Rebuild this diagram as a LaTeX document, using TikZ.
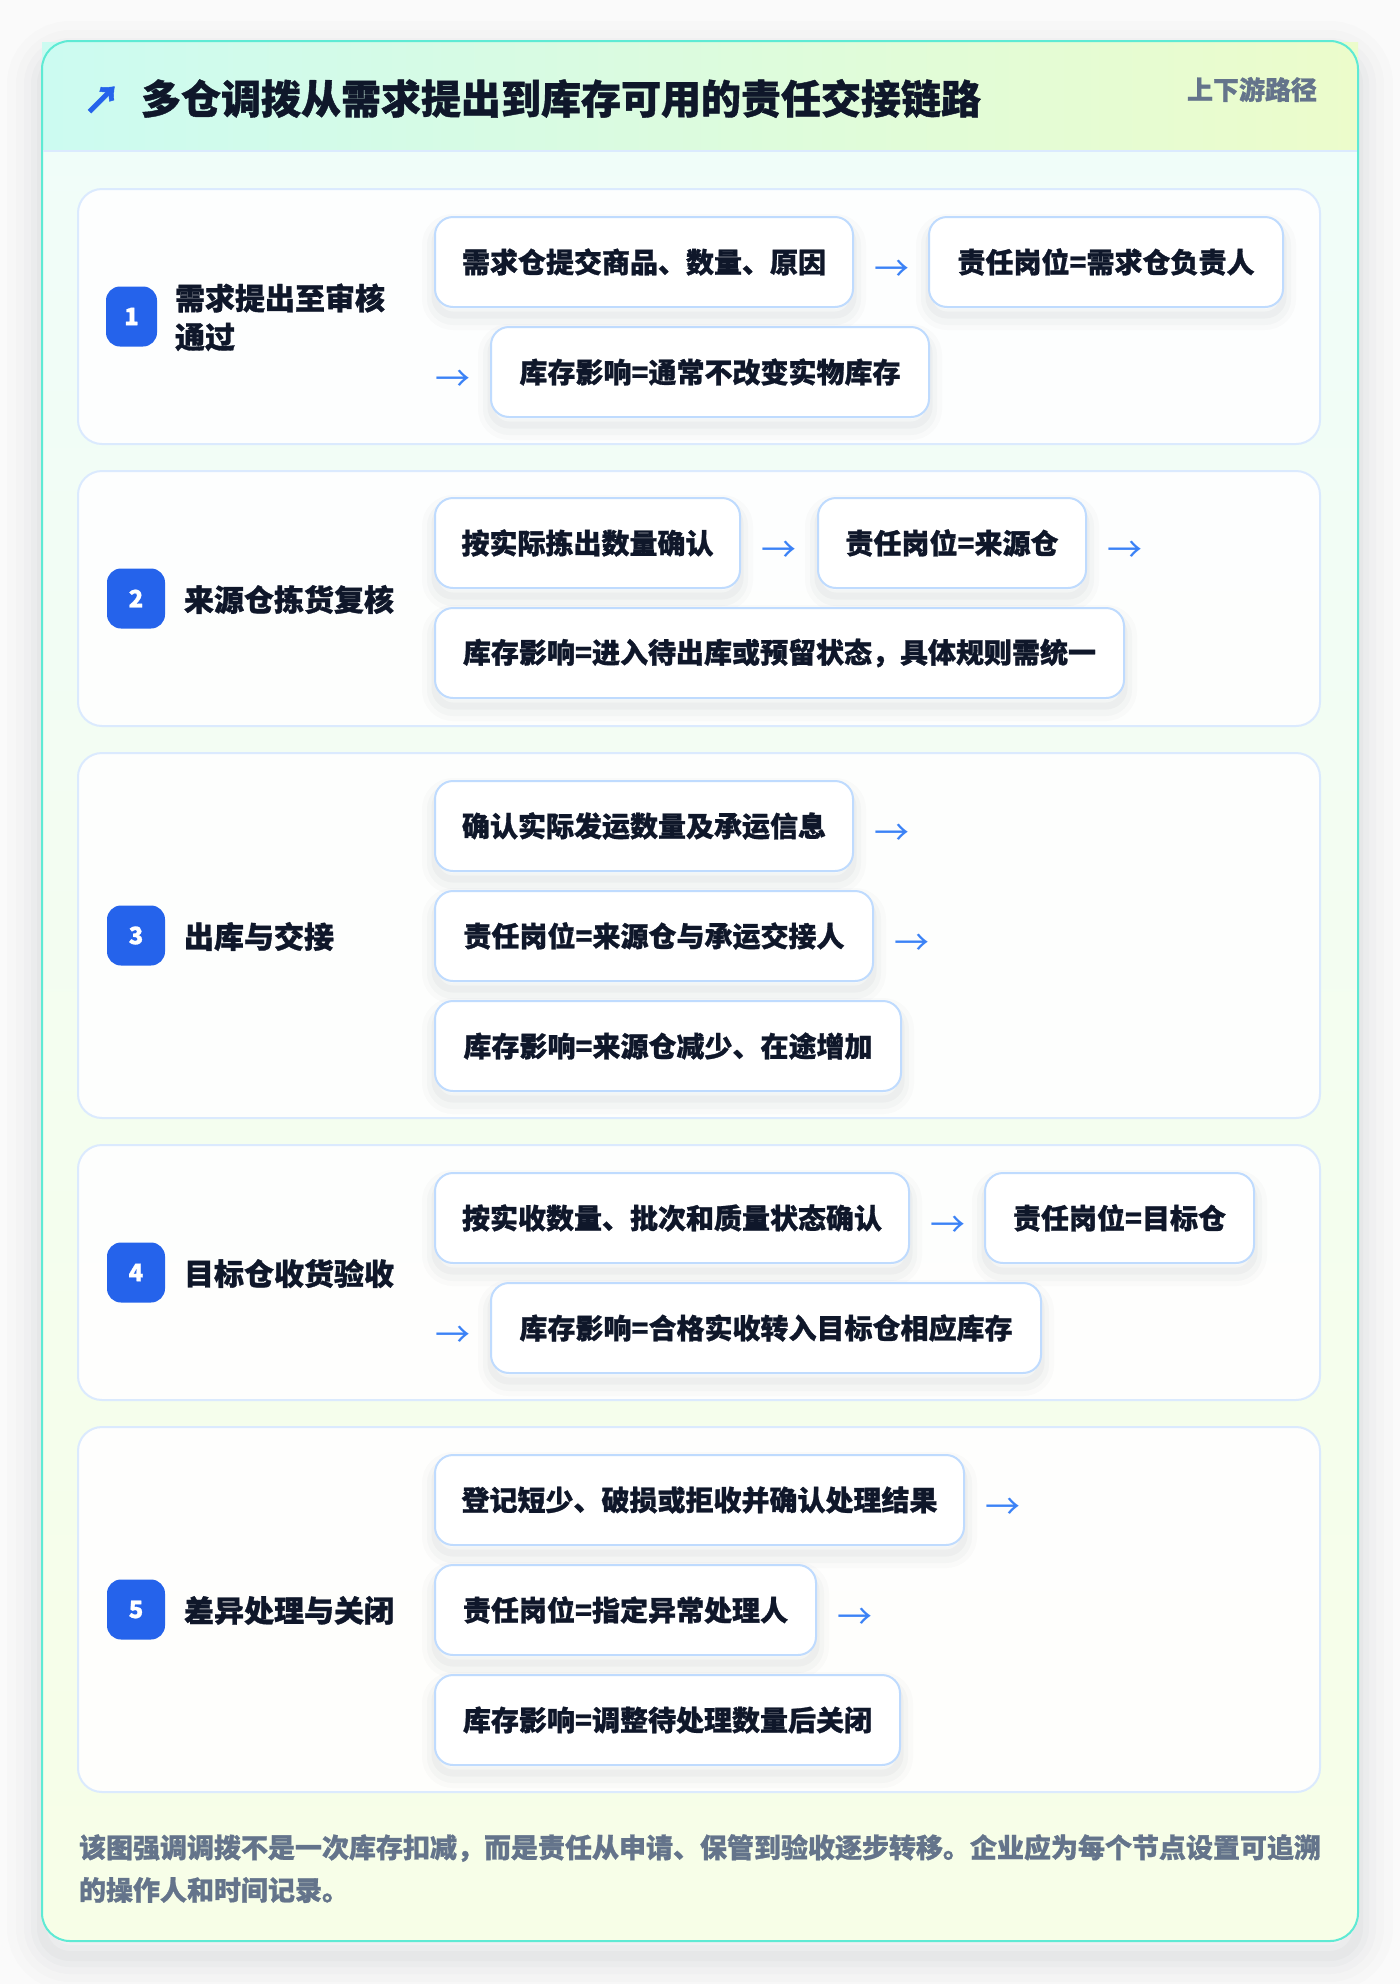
\documentclass[tikz,border=0pt]{standalone}
\usepackage{fontspec}
\newfontfamily\cjk{Noto Sans CJK SC}
\newfontfamily\cjkh{Noto Sans CJK SC}[BoldFeatures={FakeBold=1.0}]
\definecolor{ink}{HTML}{0F172A}
\definecolor{muted}{HTML}{64748B}
\definecolor{badgeblue}{HTML}{2563EB}
\definecolor{arrowblue}{HTML}{3B82F6}
\definecolor{itemborder}{HTML}{BFDBFE}
\definecolor{secborder}{HTML}{DBEAFE}
\definecolor{cardteal}{HTML}{5EEAD4}
\definecolor{headL}{HTML}{CCFBF1}
\definecolor{headM}{HTML}{DAFBE1}
\definecolor{headR}{HTML}{ECFCCB}
\definecolor{bodytop}{HTML}{F0FDFA}
\definecolor{bodybot}{HTML}{F7FEE7}
\definecolor{pagebg}{HTML}{FAFAFA}
\definecolor{shadowc}{HTML}{1E293B}
\newcommand\myitemfont{\cjkh\bfseries\fontsize{28}{34}\selectfont}
\newcommand\mylblfont{\cjkh\bfseries\fontsize{30}{39}\selectfont}
\newcommand\mybadgefont{\cjkh\bfseries\fontsize{24}{28}\selectfont}
\newcommand\myarrfont{\cjk\mdseries\fontsize{35}{40}\selectfont}
\newcommand\myfootfont{\cjkh\bfseries\fontsize{27}{42}\selectfont}
\tikzset{
  softshadow/.style={
    preaction={draw=shadowc, line width=26pt, draw opacity=0.016, transform canvas={yshift=-10pt}},
    preaction={draw=shadowc, line width=16pt, draw opacity=0.022, transform canvas={yshift=-10pt}},
    preaction={draw=shadowc, line width=7pt, draw opacity=0.03, transform canvas={yshift=-8pt}}},
  secbox/.style={draw=secborder, line width=2pt, fill=white, fill opacity=0.9, rounded corners=24pt, anchor=north west, minimum width=1242pt},
  itembox/.style={draw=itemborder, line width=2pt, fill=white, rounded corners=18pt, anchor=north west, minimum height=90pt, font=\myitemfont, text=ink, softshadow},
  badge/.style={fill=badgeblue, rounded corners=14pt, minimum height=60pt, minimum width=58pt, text=white, font=\mybadgefont},
  lbl/.style={anchor=west, text=ink, font=\mylblfont},
  arr/.style={text=arrowblue, font=\myarrfont},
  foot/.style={anchor=west, text=muted, font=\myfootfont},
}
\begin{document}
\begin{tikzpicture}[x=1pt,y=-1pt, every node/.style={inner sep=0pt, outer sep=0pt}]
\useasboundingbox (0,0) rectangle (1400,1984);
\fill[pagebg] (0,0) rectangle (1400,1984);
% card shadow
\foreach \w/\o in {70/0.010, 52/0.012, 36/0.016, 22/0.02, 10/0.025} {
  \draw[shadowc, line width=\w pt, draw opacity=\o, rounded corners=28pt] (42,56) rectangle (1358,1956);
}
% card body
\shade[top color=bodytop, bottom color=bodybot, rounded corners=28pt] (42,41) rectangle (1358,1941);
% header
\shade[left color=headL, middle color=headM, right color=headR] (42,42) rectangle (1358,151);
\draw[cardteal, line width=2pt, rounded corners=28pt] (42,41) rectangle (1358,1941);
\draw[secborder, line width=2pt] (43,151) -- (1357,151);
\node[text=badgeblue, font=\cjkh\bfseries\fontsize{38}{42}\selectfont] (ticon) at (102,100) {↗};
\node[anchor=west, text=ink, font=\cjkh\bfseries\fontsize{40}{48}\selectfont] (title) at (141,98.5) {多仓调拨从需求提出到库存可用的责任交接链路};
\node[anchor=east, text=muted, font=\cjkh\bfseries\fontsize{26}{32}\selectfont] (tag) at (1317,89.5) {上下游路径};

% Section 1
\node[secbox, minimum height=255pt] (sec1) at (78,189) {};
\node[badge, minimum width=51pt] (b1) at (131.5,316.5) {1};
\node[lbl] (l1a) at (175,298) {需求提出至审核};
\node[lbl] (l1b) at (175,337) {通过};
\node[itembox, minimum width=418pt] (s1a) at (435,217) {需求仓提交商品、数量、原因};
\node[arr] (r11) at (892,271) {→};
\node[itembox, minimum width=354pt] (s1b) at (929,217) {责任岗位=需求仓负责人};
\node[arr] (r12) at (453,381) {→};
\node[itembox, minimum width=438pt] (s1c) at (491,327) {库存影响=通常不改变实物库存};

% Section 2
\node[secbox, minimum height=255pt] (sec2) at (78,471) {};
\node[badge] (b2) at (136,598.5) {2};
\node[lbl] (l2) at (184,599.5) {来源仓拣货复核};
\node[itembox, minimum width=305pt] (s2a) at (435,498) {按实际拣出数量确认};
\node[arr] (r21) at (779,552) {→};
\node[itembox, minimum width=268pt] (s2b) at (818,498) {责任岗位=来源仓};
\node[arr] (r22) at (1125,552) {→};
\node[itembox, minimum width=689pt] (s2c) at (435,608) {库存影响=进入待出库或预留状态，具体规则需统一};

% Section 3
\node[secbox, minimum height=365pt] (sec3) at (78,753) {};
\node[badge] (b3) at (136,935.5) {3};
\node[lbl] (l3) at (184,936.5) {出库与交接};
\node[itembox, minimum width=418pt] (s3a) at (435,781) {确认实际发运数量及承运信息};
\node[arr] (r31) at (892,835) {→};
\node[itembox, minimum width=438pt] (s3b) at (435,891) {责任岗位=来源仓与承运交接人};
\node[arr] (r32) at (912,945) {→};
\node[itembox, minimum width=466pt] (s3c) at (435,1001) {库存影响=来源仓减少、在途增加};

% Section 4
\node[secbox, minimum height=255pt] (sec4) at (78,1145) {};
\node[badge] (b4) at (136,1272.5) {4};
\node[lbl] (l4) at (184,1273.5) {目标仓收货验收};
\node[itembox, minimum width=474pt] (s4a) at (435,1173) {按实收数量、批次和质量状态确认};
\node[arr] (r41) at (948,1227) {→};
\node[itembox, minimum width=269pt] (s4b) at (985,1173) {责任岗位=目标仓};
\node[arr] (r42) at (453,1337) {→};
\node[itembox, minimum width=550pt] (s4c) at (491,1283) {库存影响=合格实收转入目标仓相应库存};

% Section 5
\node[secbox, minimum height=365pt] (sec5) at (78,1427) {};
\node[badge] (b5) at (136,1609.5) {5};
\node[lbl] (l5) at (184,1610.5) {差异处理与关闭};
\node[itembox, minimum width=529pt] (s5a) at (435,1455) {登记短少、破损或拒收并确认处理结果};
\node[arr] (r51) at (1003,1509) {→};
\node[itembox, minimum width=381pt] (s5b) at (435,1565) {责任岗位=指定异常处理人};
\node[arr] (r52) at (855,1619) {→};
\node[itembox, minimum width=465pt] (s5c) at (435,1675) {库存影响=调整待处理数量后关闭};

% Footer
\node[foot] (f1) at (79,1848) {该图强调调拨不是一次库存扣减，而是责任从申请、保管到验收逐步转移。企业应为每个节点设置可追溯};
\node[foot] (f2) at (79,1890) {的操作人和时间记录。};
\end{tikzpicture}
\end{document}
